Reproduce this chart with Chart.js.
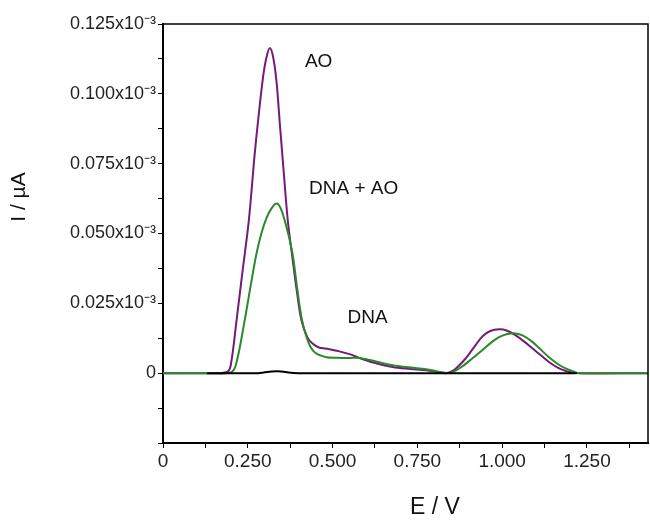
<!DOCTYPE html>
<html>
<head>
<meta charset="utf-8">
<script src="https://cdn.jsdelivr.net/npm/chart.js@4.4.1/dist/chart.umd.min.js"></script>
<style>
  html, body { margin: 0; padding: 0; background: #fff; }
  #wrap { width: 650px; height: 520px; }
</style>
</head>
<body>
<div id="wrap"><canvas id="c" width="650" height="520"></canvas></div>
<script>
// ===== DATA (E in V, I in units of 10^-3 µA) =====
const aoE = [0, 0.15, 0.19, 0.20, 0.217, 0.235, 0.253, 0.27, 0.28, 0.295, 0.305, 0.315, 0.325, 0.335, 0.344, 0.356, 0.368, 0.383, 0.395, 0.408, 0.425, 0.44, 0.46, 0.48, 0.52, 0.55, 0.58, 0.62, 0.677, 0.73, 0.776, 0.81, 0.835, 0.86, 0.894, 0.92, 0.943, 0.965, 0.991, 1.015, 1.04, 1.065, 1.089, 1.115, 1.138, 1.165, 1.19, 1.21, 1.23, 1.43];
const aoI = [0, 0, 0.0005, 0.003, 0.019, 0.037, 0.0546, 0.078, 0.090, 0.106, 0.113, 0.1164, 0.113, 0.104, 0.090, 0.072, 0.0546, 0.040, 0.029, 0.019, 0.013, 0.0107, 0.0092, 0.0088, 0.0078, 0.0068, 0.0054, 0.0038, 0.0022, 0.0015, 0.001, 0.0004, 0, 0.0013, 0.0055, 0.0098, 0.0133, 0.0151, 0.0157, 0.0152, 0.0135, 0.0113, 0.0089, 0.0063, 0.004, 0.0019, 0.0007, 0.0002, 0, 0];

const dnaAoE = [0, 0.15, 0.20, 0.215, 0.241, 0.258, 0.276, 0.29, 0.305, 0.32, 0.335, 0.347, 0.359, 0.371, 0.383, 0.395, 0.41, 0.43, 0.45, 0.482, 0.51, 0.54, 0.57, 0.61, 0.677, 0.73, 0.776, 0.81, 0.835, 0.853, 0.88, 0.91, 0.943, 0.97, 0.991, 1.015, 1.035, 1.06, 1.089, 1.115, 1.138, 1.165, 1.187, 1.21, 1.226, 1.43];
const dnaAoI = [0, 0, 0.0003, 0.003, 0.019, 0.031, 0.043, 0.050, 0.0555, 0.059, 0.0607, 0.059, 0.0546, 0.049, 0.042, 0.031, 0.019, 0.0107, 0.0072, 0.0057, 0.0055, 0.0054, 0.0055, 0.0047, 0.0028, 0.0020, 0.0014, 0.0006, 0.0001, 0.0003, 0.0022, 0.0051, 0.0084, 0.0112, 0.0129, 0.0140, 0.0143, 0.0135, 0.0112, 0.0083, 0.0057, 0.0032, 0.0017, 0.0006, 0, 0];

const dnaE = [0.13, 0.28, 0.30, 0.32, 0.35, 0.37, 0.40, 1.22];
const dnaI = [0, 0, 0.0003, 0.0006, 0.0006, 0.0002, 0, 0];

// curve labels: [text, E, I]
const curveLabels = [
  ["AO", 0.459, 0.1114],
  ["DNA + AO", 0.562, 0.0661],
  ["DNA", 0.603, 0.0200]
];

const FONT = "'Liberation Sans', Arial, sans-serif";

function pts(xs, ys) {
  return xs.map((x, i) => ({ x: x, y: ys[i] }));
}

function isMultiple(v, step) {
  return Math.abs(Math.round(v / step) * step - v) < 1e-9;
}

// ===== PLUGINS =====
const boxPlugin = {
  id: "box",
  afterDraw(chart) {
    const { ctx, chartArea: a } = chart;
    ctx.save();
    ctx.strokeStyle = "#000";
    ctx.lineWidth = 1.5;
    ctx.beginPath();
    ctx.moveTo(a.left, a.top);
    ctx.lineTo(a.right, a.top);
    ctx.lineTo(a.right, a.bottom);
    ctx.stroke();
    ctx.restore();
  }
};

const textPlugin = {
  id: "texts",
  afterDraw(chart) {
    const { ctx } = chart;
    const xs = chart.scales.x, ys = chart.scales.y;
    ctx.save();
    ctx.fillStyle = "#111";
    ctx.font = "19px " + FONT;
    ctx.textAlign = "center";
    ctx.textBaseline = "middle";
    curveLabels.forEach(([t, e, i]) => {
      ctx.fillText(t, xs.getPixelForValue(e), ys.getPixelForValue(i));
    });
    // axis titles
    ctx.font = "23px " + FONT;
    ctx.fillText("E / V", 435, 508);
    ctx.font = "21px " + FONT;
    ctx.translate(19, 197);
    ctx.rotate(-Math.PI / 2);
    ctx.fillText("I / µA", 0, 0);
    ctx.restore();
  }
};

// ===== CHART =====
new Chart(document.getElementById("c"), {
  type: "line",
  data: {
    datasets: [
      { label: "DNA + AO", data: pts(dnaAoE, dnaAoI), borderColor: "#2a8a2a", order: 2 },
      { label: "AO", data: pts(aoE, aoI), borderColor: "#741a78", order: 3 },
      { label: "DNA", data: pts(dnaE, dnaI), borderColor: "#000", order: 1 }
    ]
  },
  options: {
    responsive: false,
    animation: false,
    layout: { padding: { top: 24, right: 2, left: 0, bottom: 0 } },
    elements: {
      point: { radius: 0 },
      line: { borderWidth: 2, tension: 0.35, fill: false }
    },
    plugins: { legend: { display: false }, tooltip: { enabled: false } },
    scales: {
      x: {
        type: "linear",
        min: 0,
        max: 1.43,
        afterFit: s => { s.height = 77; },
        border: { color: "#000", width: 2 },
        grid: { drawOnChartArea: false, color: "#000", tickLength: 5 },
        ticks: {
          stepSize: 0.125,
          includeBounds: false,
          autoSkip: false,
          maxRotation: 0,
          padding: 2,
          color: "#222",
          font: { family: FONT, size: 19 },
          callback: v => {
            if (!isMultiple(v, 0.25)) return "";
            return v === 0 ? "0" : v.toFixed(3);
          }
        }
      },
      y: {
        min: -0.025,
        max: 0.125,
        afterFit: s => { s.width = 163; },
        border: { color: "#000", width: 2 },
        grid: { drawOnChartArea: false, color: "#000", tickLength: 5 },
        ticks: {
          stepSize: 0.0125,
          autoSkip: false,
          padding: 2,
          color: "#222",
          font: { family: FONT, size: 18 },
          callback: v => {
            if (v < -1e-9 || !isMultiple(v, 0.025)) return "";
            if (Math.abs(v) < 1e-9) return "0";
            return v.toFixed(3) + "x10⁻³";
          }
        }
      }
    }
  },
  plugins: [boxPlugin, textPlugin]
});
</script>
</body>
</html>
